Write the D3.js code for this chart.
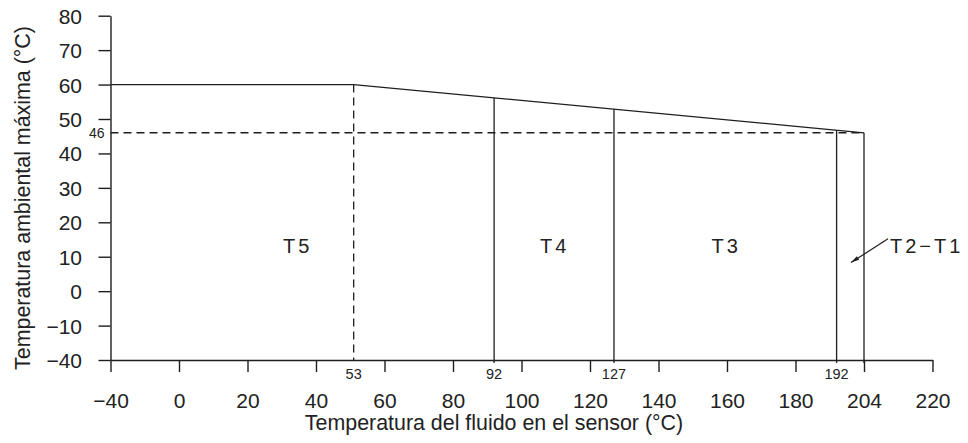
<!DOCTYPE html>
<html>
<head>
<meta charset="utf-8">
<script src="https://cdn.jsdelivr.net/npm/d3@7"></script>
<style>
  html, body { margin: 0; padding: 0; background: #fff; }
  svg { display: block; }
  text { font-family: "Liberation Sans", Arial, sans-serif; fill: #222; }
</style>
</head>
<body>
<svg id="chart" width="968" height="443"></svg>
<script>
// ---- data ----
const xTicks = [-40, 0, 20, 40, 60, 80, 100, 120, 140, 160, 180, 200, 220];
const xTickLabels = ["\u221240", "0", "20", "40", "60", "80", "100", "120", "140", "160", "180", "204", "220"];
const yTicks = [-40, -10, 0, 10, 20, 30, 40, 50, 60, 70, 80];
const yTickLabels = ["\u221240", "\u221210", "0", "10", "20", "30", "40", "50", "60", "70", "80"];

// maximum ambient temperature curve (plotted positions)
const limitX = [-40, 51, 200];
const limitY = [60, 60, 46];

// class boundary lines
const boundaryX = [51, 92, 127, 192, 200];
const boundaryTop = [60, 56.1, 52.9, 46.6, 46];
const boundaryLabel = ["53", "92", "127", "192", ""];

// 46 °C reference
const refY = 46;
const refLabel = "46";

// temperature classes (label start positions)
const classNames = ["T5", "T4", "T3", "T2\u2212T1"];
const classX = [30.4, 105.4, 155.5, 207.6];
const classY = [11, 11, 11, 11];
const arrowFrom = [207.0, 15.2];
const arrowTo = [196.2, 8.3];

const xTitle = "Temperatura del fluido en el sensor (°C)";
const yTitle = "Temperatura ambiental máxima (°C)";

// ---- scales ----
const x = d3.scaleLinear().domain([-40, 0, 220]).range([110.5, 179, 932.5]);
const y = d3.scaleLinear().domain([-40, -10, 80]).range([360, 325.6, 15.7]);

const svg = d3.select("#chart");
const ink = "#1e1e1e";
const font = "'Liberation Sans', Arial, sans-serif";

svg.append("defs").append("marker")
  .attr("id", "arr").attr("viewBox", "0 0 10 6").attr("refX", 10).attr("refY", 3)
  .attr("markerWidth", 10).attr("markerHeight", 5).attr("markerUnits", "userSpaceOnUse")
  .attr("orient", "auto")
  .append("path").attr("d", "M0,0.5 L10,3 L0,5.5 Z").attr("fill", ink);

// axes
const xAxis = d3.axisBottom(x).tickValues(xTicks)
  .tickFormat((d, i) => xTickLabels[i]).tickSize(12).tickSizeOuter(0);
const gx = svg.append("g").attr("transform", `translate(0,${y(-40)})`).call(xAxis);
gx.selectAll("text").attr("y", 48.3).attr("dy", null)
  .style("font-size", "21px").style("font-family", font).attr("fill", "#222");

const yAxis = d3.axisLeft(y).tickValues(yTicks)
  .tickFormat((d, i) => yTickLabels[i]).tickSize(12).tickSizeOuter(0).tickPadding(16.5);
const gy = svg.append("g").attr("transform", `translate(${x(-40)},0)`).call(yAxis);
gy.selectAll("text").attr("dy", "0.36em")
  .style("font-size", "21px").style("font-family", font).attr("fill", "#222");

[gx, gy].forEach(g => {
  g.selectAll("path,line").attr("stroke", ink).attr("stroke-width", 1.4);
});

// reference 46 dashed
svg.append("line")
  .attr("x1", x(-40)).attr("x2", x(200)).attr("y1", y(refY)).attr("y2", y(refY))
  .attr("stroke", ink).attr("stroke-width", 1.3).attr("stroke-dasharray", "8,5");
svg.append("text").attr("x", x(-40) - 6).attr("y", y(refY)).attr("dy", "0.36em")
  .attr("text-anchor", "end").style("font-size", "14px").text(refLabel);

// limit curve
svg.append("path")
  .datum(limitX.map((v, i) => [v, limitY[i]]))
  .attr("d", d3.line().x(d => x(d[0])).y(d => y(d[1])))
  .attr("fill", "none").attr("stroke", ink).attr("stroke-width", 1.3);

// boundaries
boundaryX.forEach((bx, i) => {
  const dashed = i === 0;
  svg.append("line")
    .attr("x1", x(bx)).attr("x2", x(bx))
    .attr("y1", y(boundaryTop[i])).attr("y2", dashed ? y(-40) : y(-40) + 3)
    .attr("stroke", ink).attr("stroke-width", 1.3)
    .attr("stroke-dasharray", dashed ? "8,5" : null);
  if (boundaryLabel[i]) {
    svg.append("text").attr("x", x(bx)).attr("y", y(-40) + 18.5)
      .attr("text-anchor", "middle").style("font-size", "14.5px").text(boundaryLabel[i]);
  }
});

// class labels
classNames.forEach((n, i) => {
  svg.append("text").attr("x", x(classX[i])).attr("y", y(classY[i]))
    .attr("text-anchor", "start").style("font-size", "20px")
    .style("letter-spacing", "3px").text(n);
});

// arrow
svg.append("line")
  .attr("x1", x(arrowFrom[0])).attr("y1", y(arrowFrom[1]))
  .attr("x2", x(arrowTo[0])).attr("y2", y(arrowTo[1]))
  .attr("stroke", ink).attr("stroke-width", 1.2).attr("marker-end", "url(#arr)");

// axis titles
svg.append("text").attr("x", 494).attr("y", 429.5).attr("text-anchor", "middle")
  .style("font-size", "21.4px").text(xTitle);
svg.append("text").attr("transform", "translate(30,198) rotate(-90)")
  .attr("text-anchor", "middle").style("font-size", "21.4px").text(yTitle);
</script>
</body>
</html>
